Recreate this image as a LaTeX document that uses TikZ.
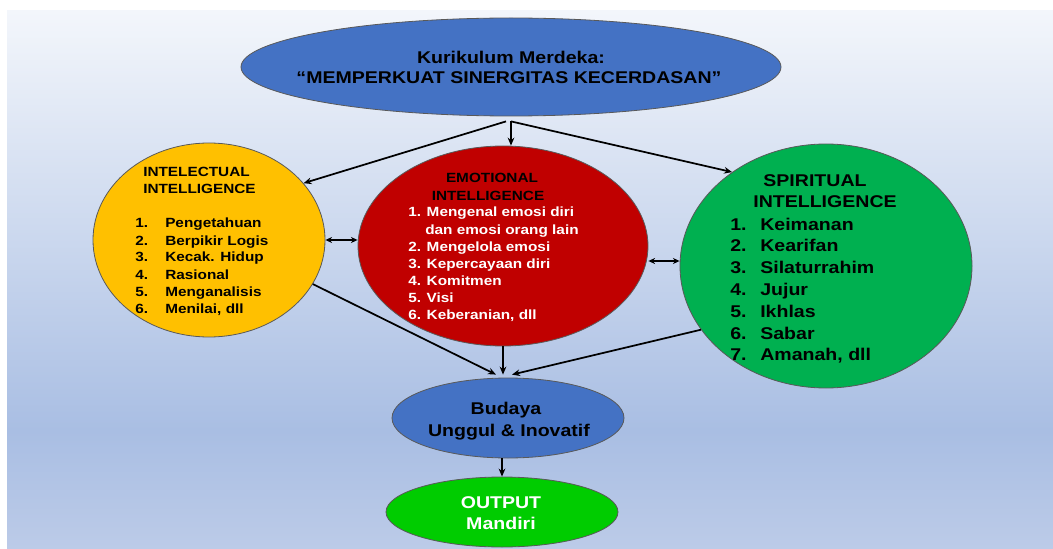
\documentclass[tikz,border=0pt]{standalone}
\usepackage{fontspec}
\setmainfont{Liberation Sans}[FakeStretch=1.15]
\usetikzlibrary{shapes.geometric,arrows.meta,calc}
\definecolor{ublue}{HTML}{4472C4}
\definecolor{uyellow}{HTML}{FFC000}
\definecolor{ured}{HTML}{C00000}
\definecolor{ugreen}{HTML}{00B050}
\definecolor{ulime}{HTML}{00CC00}
\definecolor{bgT}{HTML}{F3F6FB}
\definecolor{bgM}{HTML}{A9BEE3}
\definecolor{bgB}{HTML}{BCCBE8}
\pgfdeclareverticalshading{bgshade}{100bp}{color(0bp)=(bgB); color(25bp)=(bgB); color(36bp)=(bgM); color(75bp)=(bgT); color(100bp)=(bgT)}
\tikzset{
  ell/.style={ellipse, draw=black!65, line width=0.6pt, inner sep=0pt},
  txt/.style={inner sep=0pt, font=\bfseries},
  arr/.style={-{Stealth[length=6pt,width=5pt]}, line width=1.3pt},
  darr/.style={{Stealth[length=5pt,width=4.5pt]}-{Stealth[length=5pt,width=4.5pt]}, line width=1.3pt},
  fbig/.style={font=\bfseries\fontsize{12.75pt}{15pt}\selectfont},
  fsmall/.style={font=\bfseries\fontsize{10pt}{12pt}\selectfont},
}
\begin{document}
\begin{tikzpicture}[x=0.75pt,y=-0.75pt]
\useasboundingbox (0,0) rectangle (1053,549);
\fill[white] (0,0) rectangle (1053,549);
\shade[shading=bgshade] (7,11) rectangle (1053,549);

% ellipses
\node[ell, fill=ublue, minimum width=405pt, minimum height=73.5pt] (top) at (511,67) {};
\node[ell, fill=uyellow, minimum width=174pt, minimum height=145.5pt] (yel) at (209,240) {};
\node[ell, fill=ured, minimum width=217.5pt, minimum height=150pt] (red) at (503,246) {};
\node[ell, fill=ugreen, minimum width=219pt, minimum height=183pt] (grn) at (826,266) {};
\node[ell, fill=ublue, minimum width=174pt, minimum height=60pt] (bud) at (508,418) {};
\node[ell, fill=ulime, minimum width=174pt, minimum height=52.5pt] (out) at (502,512) {};

% top text
\node[txt, fbig, anchor=base] (t1) at (511,64) {Kurikulum Merdeka:};
\node[txt, fbig, anchor=base] (t2) at (509,84) {“MEMPERKUAT SINERGITAS KECERDASAN”};

% intellectual
\node[txt, fsmall, anchor=base west] (yh1) at (143,177) {INTELECTUAL};
\node[txt, fsmall, anchor=base west] (yh2) at (143,194) {INTELLIGENCE};
\foreach \t [count=\i] in {Pengetahuan, Berpikir Logis, Kecak. Hidup, Rasional, Menganalisis, {Menilai, dll}} {
  \node[txt, fsmall, anchor=base west] (yn\i) at (135,{228+17*(\i-1)}) {\i.};
  \node[txt, fsmall, anchor=base west] (yl\i) at (165,{228+17*(\i-1)}) {\t};
}

% emotional
\node[txt, fsmall, anchor=base] (rh1) at (492,183) {EMOTIONAL};
\node[txt, fsmall, anchor=base] (rh2) at (488,200) {INTELLIGENCE};
\node[txt, fsmall, anchor=base west, text=white] (r1) at (408,217) {1. Mengenal emosi diri};
\node[txt, fsmall, anchor=base west, text=white] (r1b) at (425,234) {dan emosi orang lain};
\foreach \t [count=\i from 2] in {Mengelola emosi, Kepercayaan diri, Komitmen, Visi, {Keberanian, dll}} {
  \node[txt, fsmall, anchor=base west, text=white] (r\i) at (408,{251+17*(\i-2)}) {\i. \t};
}

% spiritual
\node[txt, fbig, anchor=base] (gh1) at (815,186) {SPIRITUAL};
\node[txt, fbig, anchor=base] (gh2) at (825,208) {INTELLIGENCE};
\foreach \t [count=\i] in {Keimanan, Kearifan, Silaturrahim, Jujur, Ikhlas, Sabar, {Amanah, dll}} {
  \node[txt, fbig, anchor=base west] (gn\i) at (730,{230+21.8*(\i-1)}) {\i.};
  \node[txt, fbig, anchor=base west] (gl\i) at (760,{230+21.8*(\i-1)}) {\t};
}

% budaya & output
\node[txt, fbig, anchor=base] (b1) at (506,414) {Budaya};
\node[txt, fbig, anchor=base] (b2) at (509,436) {Unggul \& Inovatif};
\node[txt, fbig, anchor=base, text=white] (o1) at (501,508) {OUTPUT};
\node[txt, fbig, anchor=base, text=white] (o2) at (501,529) {Mandiri};

% connectors
\coordinate (fan) at ($(top.south)+(0,5)$);
\coordinate (fanL) at ($(fan)+(-5,0)$);
\draw[arr] (fanL) -- (yel.31);
\draw[arr] (fan) -- (fan |- red.north);
\draw[arr] (fan) -- (grn.135);
\draw[darr] (yel.east) -- (yel.east -| red.west);
\coordinate (rg) at ($(grn.west)+(0,-5)$);
\draw[darr] (rg -| red.east) -- (rg);
\coordinate (bin) at ($(bud.north)+(0,-3)$);
\draw[arr] (yel.-23) -- ($(bin)+(-12,0)$);
\draw[arr] (red.south) -- (red.south |- bin);
\draw[arr] (grn.207) -- ($(bin)+(4,0)$);
\draw[arr] (out.north |- bud.south) -- (out.north);
\end{tikzpicture}
\end{document}
